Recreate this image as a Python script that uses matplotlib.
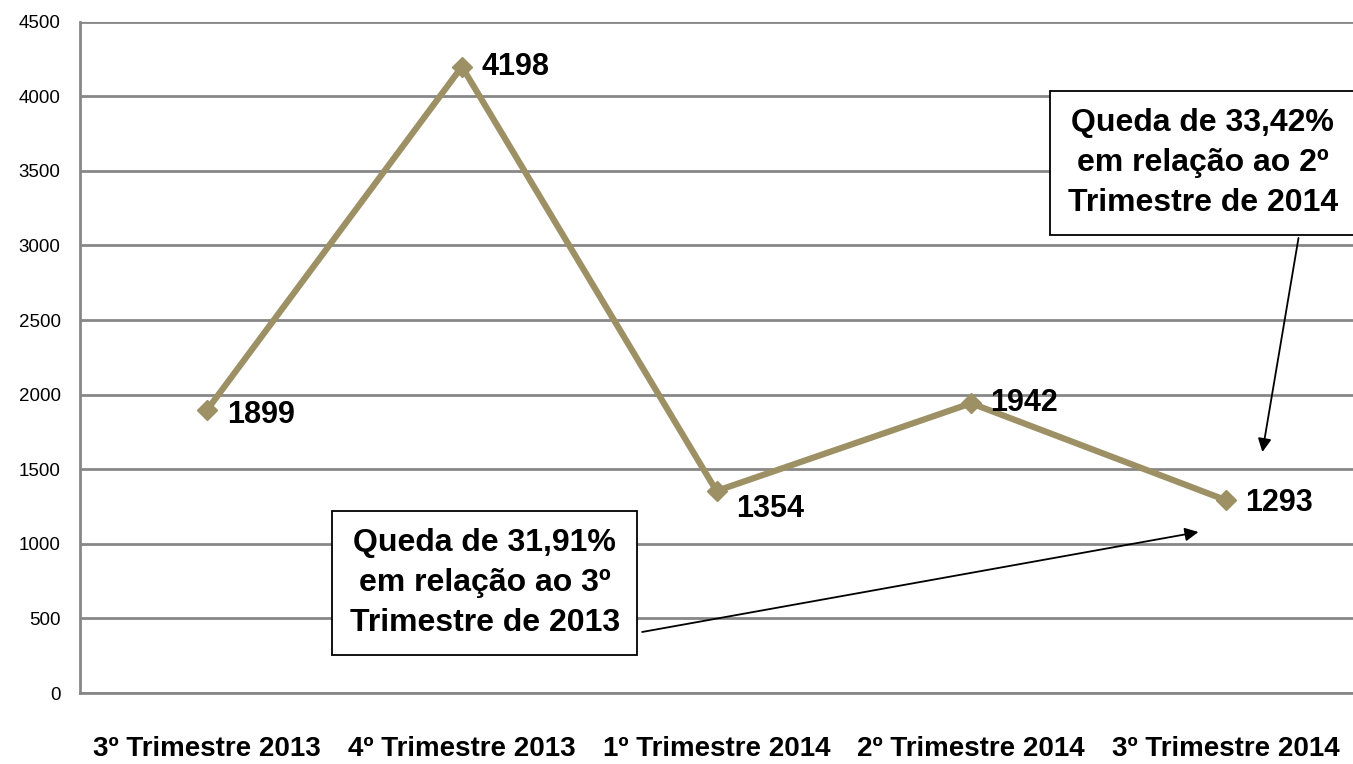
"""
Quarterly totals line chart with drop annotations.
"""

import matplotlib
matplotlib.use("Agg")
import matplotlib.pyplot as plt

# data
quarters = ["3º Trimestre 2013", "4º Trimestre 2013", "1º Trimestre 2014",
            "2º Trimestre 2014", "3º Trimestre 2014"]
values = [1899, 4198, 1354, 1942, 1293]
y_ticks = [0, 500, 1000, 1500, 2000, 2500, 3000, 3500, 4000, 4500]
note_q2 = "Queda de 33,42%\nem relação ao 2º\nTrimestre de 2014"
note_q3 = "Queda de 31,91%\nem relação ao 3º\nTrimestre de 2013"

LINE = "#9C9064"
GRID = "#878787"

plt.rcParams["font.family"] = ["Liberation Sans", "DejaVu Sans"]

fig = plt.figure(figsize=(13.53, 7.64), dpi=100)
ax = fig.add_axes([80 / 1353, 1 - 693 / 764, 1 - 80 / 1353, (693 - 21.6) / 764])

x = list(range(len(values)))
ax.plot(x, values, color=LINE, lw=4.5, marker="D", ms=10, mec=LINE, mfc=LINE,
        zorder=3, clip_on=False)

# data labels, right of each point (some dropped a bit like the original)
label_dy = [-4, 0, -13, 0, -2]
for xi, v, dy in zip(x, values, label_dy):
    ax.annotate(str(v), (xi, v), xytext=(14, dy), textcoords="offset points",
                ha="left", va="center", fontsize=22, fontweight="bold",
                color="black", zorder=4)

ax.set_xlim(-0.5, len(values) - 0.5)
ax.set_ylim(0, 4500)
ax.set_yticks(y_ticks)
ax.set_yticklabels([str(t) for t in y_ticks])
ax.set_xticks(x)
ax.set_xticklabels(quarters, fontsize=20, fontweight="bold")
ax.tick_params(axis="y", length=0, pad=14, labelsize=13.5)
ax.tick_params(axis="x", length=0, pad=31)

ax.grid(axis="y", color=GRID, lw=2)
ax.set_axisbelow(True)
for side in ["top", "right"]:
    ax.spines[side].set_visible(False)
for side in ["left", "bottom"]:
    ax.spines[side].set_color(GRID)
    ax.spines[side].set_linewidth(2)

box = dict(boxstyle="square,pad=0.55", fc="white", ec="black", lw=1.3)
arrow = dict(arrowstyle="-|>", color="black", lw=1.3, mutation_scale=20,
             shrinkA=0, shrinkB=0)

# upper-right note, arrow pointing down towards the last point
ax.annotate("", xy=(4.144, 1615), xytext=(4.286, 3050), arrowprops=arrow, zorder=5)
ax.text(3.91, 3552, note_q2, ha="center", va="center", fontsize=23,
        fontweight="bold", linespacing=1.42, bbox=box, zorder=6)

# lower note, arrow pointing right towards the last point
ax.annotate("", xy=(3.893, 1079), xytext=(1.708, 409), arrowprops=arrow, zorder=5)
ax.text(1.09, 737, note_q3, ha="center", va="center", fontsize=23,
        fontweight="bold", linespacing=1.42, bbox=box, zorder=6)

fig.savefig("out.png", dpi=100, facecolor="white")
